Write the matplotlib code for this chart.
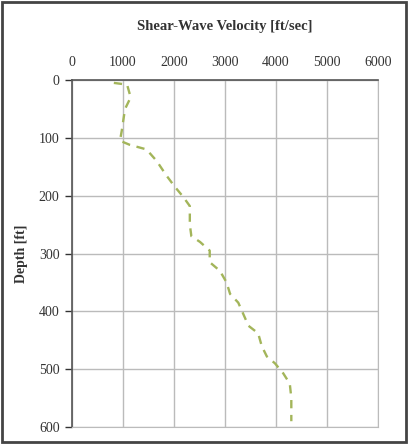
import matplotlib
matplotlib.use('Agg')
import matplotlib.pyplot as plt
from matplotlib.patches import Rectangle

# shear-wave velocity profile
depth_ft = [5, 8, 30, 50, 70, 88, 105, 112, 120, 140, 165, 185, 202, 218, 250,
            270, 280, 295, 315, 330, 350, 370, 385, 405, 425, 438, 460, 478,
            490, 507, 525, 550, 590]
vs_ftps = [820, 1080, 1150, 1040, 1005, 975, 940, 1130, 1460, 1660, 1850, 2020,
           2180, 2310, 2310, 2340, 2510, 2700, 2700, 2900, 3030, 3100, 3260,
           3360, 3460, 3650, 3720, 3820, 3980, 4140, 4270, 4300, 4300]

x_ticks = [0, 1000, 2000, 3000, 4000, 5000, 6000]
y_ticks = [0, 100, 200, 300, 400, 500, 600]

plt.rcParams['font.family'] = ['Liberation Serif', 'DejaVu Serif']

fig = plt.figure(figsize=(4.08, 4.44), dpi=100)
ax = fig.add_axes([0.1765, 0.0383, 0.75, 0.7815])

ax.plot(vs_ftps, depth_ft, color='#a3b55a', lw=1.7, dashes=(3.5, 2.8))

ax.set_xlim(0, 6000)
ax.set_ylim(600, 0)
ax.set_xticks(x_ticks)
ax.set_yticks(y_ticks)
ax.xaxis.tick_top()
ax.xaxis.set_label_position('top')
ax.tick_params(axis='x', length=0, pad=8, labelsize=10, colors='#333333')
ax.tick_params(axis='y', length=5, width=1, pad=4, labelsize=10, colors='#333333')
ax.grid(True, color='#bbbbbb', lw=1)
ax.set_axisbelow(True)

for side in ['right', 'bottom']:
    ax.spines[side].set_color('#bbbbbb')
for side in ['left', 'top']:
    ax.spines[side].set_color('#555555')
    ax.spines[side].set_linewidth(1.2)

ax.set_xlabel('Shear-Wave Velocity [ft/sec]', fontsize=10.5, fontweight='bold',
              labelpad=19, color='#333333')
ax.set_ylabel('Depth [ft]', fontsize=10, fontweight='bold', labelpad=8,
              color='#333333')

fig.patches.append(Rectangle((0.004, 0.004), 0.992, 0.992, transform=fig.transFigure,
                             fill=False, edgecolor='#444444', lw=2))

fig.savefig('out.png', dpi=100)
